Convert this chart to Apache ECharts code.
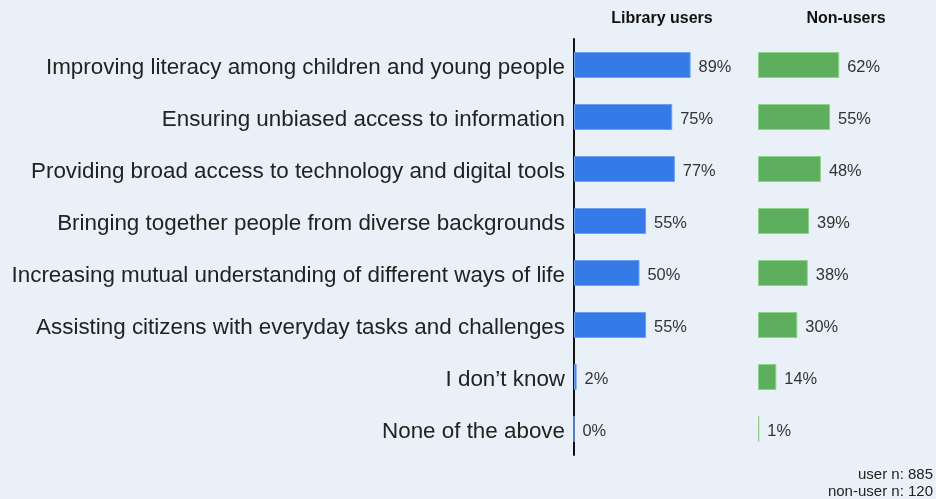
<!DOCTYPE html>
<html>
<head>
<meta charset="utf-8">
<script src="https://cdn.jsdelivr.net/npm/echarts@6/dist/echarts.min.js"></script>
<style>
  html, body { margin: 0; padding: 0; background: #e9f0f7; }
  #chart { width: 936px; height: 499px; }
</style>
</head>
<body>
<div id="chart"></div>
<script>
// Perceived roles of the library, by group (percent of respondents)
const categories = [
  'Improving literacy among children and young people',
  'Ensuring unbiased access to information',
  'Providing broad access to technology and digital tools',
  'Bringing together people from diverse backgrounds',
  'Increasing mutual understanding of different ways of life',
  'Assisting citizens with everyday tasks and challenges',
  'I don\u2019t know',
  'None of the above'
];
const libraryUsers = [89, 75, 77, 55, 50, 55, 2, 0];
const nonUsers = [62, 55, 48, 39, 38, 30, 14, 1];
const groupNames = ['Library users', 'Non-users'];
const sampleNotes = ['user n: 885', 'non-user n: 120'];

const FONT = '"Liberation Sans", Arial, sans-serif';
const chart = echarts.init(document.getElementById('chart'));

const labelStyle = {
  show: true,
  position: 'right',
  distance: 8,
  offset: [0, 2],
  formatter: p => p.value + '%',
  fontSize: 16.4,
  color: '#333',
  fontFamily: FONT
};

chart.setOption({
  backgroundColor: '#e9f0f7',
  animation: false,
  textStyle: { fontFamily: FONT },
  grid: [
    { left: 574, top: 39, width: 131, height: 416 },
    { left: 758, top: 39, width: 131, height: 416 }
  ],
  xAxis: [
    { gridIndex: 0, type: 'value', min: 0, max: 100, show: false },
    { gridIndex: 1, type: 'value', min: 0, max: 100, show: false }
  ],
  yAxis: [
    {
      gridIndex: 0, type: 'category', data: categories, inverse: true,
      axisLine: { show: true, lineStyle: { color: '#111', width: 2 } },
      axisTick: { show: false },
      axisLabel: {
        margin: 9,
        formatter: v => '{c|' + v + '}',
        rich: { c: { fontSize: 22.4, color: '#222', fontFamily: FONT, padding: [5, 0, 0, 0] } }
      }
    },
    {
      gridIndex: 1, type: 'category', data: categories, inverse: true,
      show: false
    }
  ],
  series: [
    {
      name: groupNames[0], type: 'bar', xAxisIndex: 0, yAxisIndex: 0,
      data: libraryUsers, barWidth: '50%',
      itemStyle: { color: '#367ae8', borderColor: '#6aa0f0', borderWidth: 1 },
      label: labelStyle
    },
    {
      name: groupNames[1], type: 'bar', xAxisIndex: 1, yAxisIndex: 1,
      data: nonUsers, barWidth: '50%',
      itemStyle: { color: '#5daf5e', borderColor: '#8fd08f', borderWidth: 1 },
      label: labelStyle
    }
  ],
  graphic: [
    { type: 'text', x: 662, y: 19, style: { text: groupNames[0], font: 'bold 16px ' + FONT, fill: '#111', textAlign: 'center', textVerticalAlign: 'middle' } },
    { type: 'text', x: 846, y: 19, style: { text: groupNames[1], font: 'bold 16px ' + FONT, fill: '#111', textAlign: 'center', textVerticalAlign: 'middle' } },
    { type: 'text', x: 933, y: 475, style: { text: sampleNotes[0], font: '15px ' + FONT, fill: '#222', textAlign: 'right', textVerticalAlign: 'middle' } },
    { type: 'text', x: 933, y: 492, style: { text: sampleNotes[1], font: '15px ' + FONT, fill: '#222', textAlign: 'right', textVerticalAlign: 'middle' } }
  ]
});
</script>
</body>
</html>
